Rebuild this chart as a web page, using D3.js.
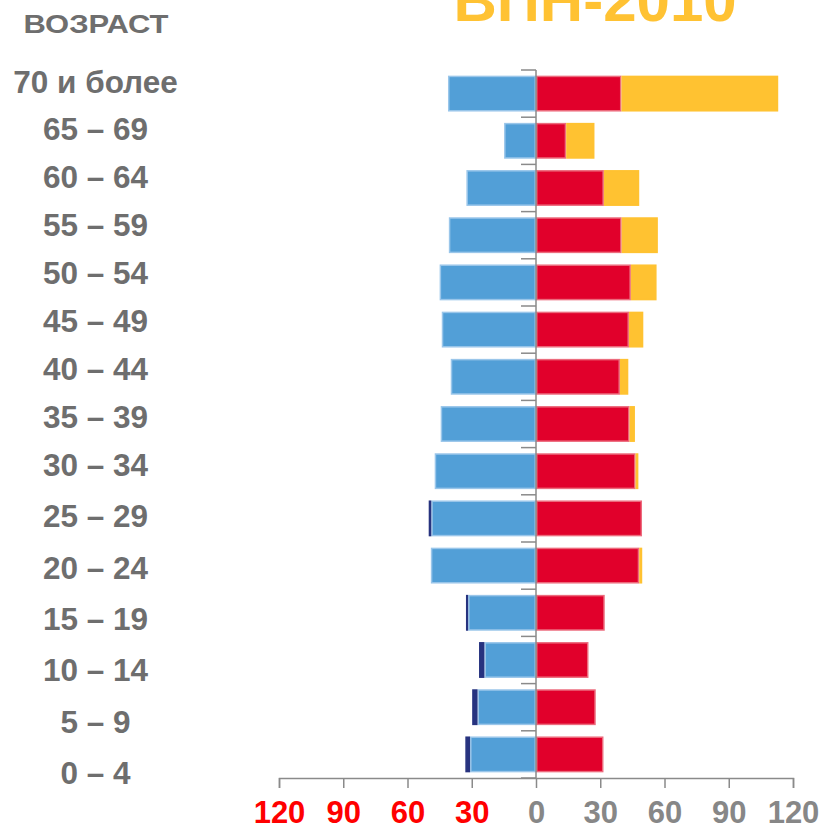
<!DOCTYPE html>
<html>
<head>
<meta charset="utf-8">
<script src="https://cdn.jsdelivr.net/npm/d3@7"></script>
<style>
  html, body { margin: 0; padding: 0; background: #fff; }
  svg { display: block; }
  text { font-family: "Liberation Sans", Arial, sans-serif; font-weight: bold; }
</style>
</head>
<body>
<svg id="chart" width="822" height="830"></svg>
<script>
const title = "ВПН-2010";
const axisTitle = "ВОЗРАСТ";
const categories = ["70 и более","65 – 69","60 – 64","55 – 59","50 – 54","45 – 49","40 – 44","35 – 39","30 – 34","25 – 29","20 – 24","15 – 19","10 – 14","5 – 9","0 – 4"];
const leftBlue   = [41.1, 14.9, 32.5, 40.7, 45.0, 44.0, 39.8, 44.5, 47.3, 48.9, 49.1, 31.7, 24.1, 27.3, 30.8];
const leftNavy   = [0, 0, 0, 0, 0, 0, 0, 0, 0, 1.2, 0, 1.0, 2.5, 2.5, 2.2];
const rightRed   = [39.9, 14.1, 31.7, 40.0, 44.3, 43.4, 39.2, 43.7, 46.5, 49.5, 48.2, 32.1, 24.5, 27.9, 31.5];
const rightYellow= [73.2, 13.2, 16.5, 16.9, 12.0, 6.7, 3.9, 2.5, 1.3, 0, 1.4, 0, 0, 0, 0];
const tickValues = [-120, -90, -60, -30, 0, 30, 60, 90, 120];

const svg = d3.select("#chart");
const x = d3.scaleLinear().domain([-120, 120]).range([279, 793]);
const y = d3.scaleBand().domain(categories).range([70, 778]).paddingInner(0.24).paddingOuter(0.12);
// category labels sit on their own (uneven) spacing in the original
const yLab = d3.scaleLinear().domain([0, 8, 14]).range([81.5, 465, 773]);

const C = { blue: "#529fd7", navy: "#27337f", red: "#e1002b", yellow: "#ffc231" };
const S = { blue: "#9ac6ea", navy: "#5560a0", red: "#ec6b7d", yellow: "#ffd680" };

const rows = categories.map((c, i) => ({ c, i, b: leftBlue[i], n: leftNavy[i], r: rightRed[i], yl: rightYellow[i] }));

function bar(x0, x1, yy, fill, stroke) {
  if (Math.abs(x1 - x0) < 0.01) return;
  const a = Math.min(x(x0), x(x1)), w = Math.abs(x(x1) - x(x0));
  svg.append("rect").attr("x", a + 0.75).attr("y", yy + 0.75)
    .attr("width", Math.max(0, w - 1.5)).attr("height", y.bandwidth() - 1.5)
    .attr("fill", fill).attr("stroke", stroke).attr("stroke-width", 1.5);
}

rows.forEach(d => {
  const yy = y(d.c);
  bar(-d.b, 0, yy, C.blue, S.blue);
  bar(-d.b - d.n, -d.b, yy, C.navy, C.navy);
  bar(0, d.r, yy, C.red, S.red);
  bar(d.r, d.r + d.yl, yy, C.yellow, C.yellow);
});

// center line and small ticks at band boundaries
svg.append("line").attr("x1", x(0)).attr("x2", x(0)).attr("y1", 70).attr("y2", 778)
  .attr("stroke", "#8a8a8a").attr("stroke-width", 1.5);
const bounds = d3.range(categories.length + 1).map(i => 70 + i * y.step());
svg.selectAll(".ctick").data(bounds).join("line")
  .attr("x1", x(0) - 15).attr("x2", x(0)).attr("y1", d => d).attr("y2", d => d)
  .attr("stroke", "#8a8a8a").attr("stroke-width", 1.5);

// bottom axis
const ax = svg.append("g").attr("transform", "translate(0,778)")
  .call(d3.axisBottom(x).tickValues(tickValues).tickSize(10).tickPadding(13).tickFormat(d => Math.abs(d)));
ax.select(".domain").attr("stroke", "#8a8a8a").attr("stroke-width", 1.5);
ax.selectAll(".tick line").attr("stroke", "#8a8a8a").attr("stroke-width", 1.5);
ax.selectAll(".tick text")
  .attr("font-size", 31).attr("font-family", "'Liberation Sans', Arial, sans-serif").attr("font-weight", "bold")
  .attr("fill", d => d < 0 ? "#ff0000" : "#878787");

// category labels
svg.selectAll(".cat").data(categories).join("text")
  .attr("x", 95.5).attr("y", (d, i) => yLab(i)).attr("dy", "0.35em")
  .attr("text-anchor", "middle").attr("font-size", 31.5).attr("fill", "#6e6e6e").text(d => d);

svg.append("text").attr("x", 96).attr("y", 24).attr("dy", "0.35em").attr("text-anchor", "middle")
  .attr("font-size", 26).attr("textLength", 145).attr("lengthAdjust", "spacingAndGlyphs")
  .attr("fill", "#6e6e6e").text(axisTitle);

svg.append("text").attr("x", 595).attr("y", 20.5).attr("text-anchor", "middle")
  .attr("font-size", 60).attr("fill", "#ffc233").text(title);
</script>
</body>
</html>
